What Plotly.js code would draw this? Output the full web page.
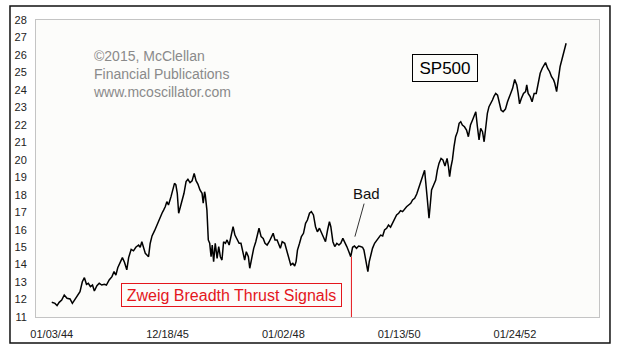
<!DOCTYPE html>
<html>
<head>
<meta charset="utf-8">
<script src="https://cdn.plot.ly/plotly-3.0.1.min.js"></script>
<style>html,body{margin:0;padding:0;background:#fff;}#chart{width:635px;height:355px;}</style>
</head>
<body>
<div id="chart"></div>
<script>
// Trading-day index (0 = 01/03/44) and S&P 500 close
const days = [
  0,14,23,32,43,54,66,79,89,101,112,122,132,141,150,158,167,176,184,195,
  205,216,227,236,248,260,269,277,285,295,305,314,324,332,343,353,363,375,382,389,
  396,404,411,418,425,433,444,454,461,468,476,483,490,497,504,515,522,530,536,542,
  548,555,562,571,580,588,597,606,615,623,631,640,649,654,660,663,670,676,682,688,
  693,699,706,714,721,728,735,742,750,757,766,774,783,791,800,809,817,826,833,840,
  849,855,863,872,881,889,895,904,913,921,930,939,947,956,964,973,987,995,1006,1015,
  1023,1032,1041,1049,1055,1061,1070,1078,1087,1096,1104,1113,1121,1130,1139,1147,1156,1165,1173,1182,
  1191,1199,1205,1214,1222,1231,1240,1248,1257,1265,1274,1283,1291,1299,1307,1316,1325,1333,1342,1348,
  1354,1359,1365,1371,1377,1385,1394,1403,1411,1420,1429,1437,1446,1454,1463,1472,1480,1489,1498,1506,
  1515,1524,1532,1541,1550,1558,1567,1576,1584,1593,1602,1610,1622,1629,1635,1640,1649,1658,1665,1672,
  1681,1689,1698,1707,1713,1718,1724,1730,1737,1744,1752,1759,1766,1773,1782,1791,1799,1808,1817,1823,
  1831,1838,1845,1852,1860,1867,1874,1881,1888,1896,1903,1910,1917,1925,1932,1940,1949,1959,1968,1979,
  1990,1999,2008,2014,2020,2028,2037,2046,2051,2057,2066,2074,2083,2092,2100,2109,2118,2126,2132,2141,
  2150,2158,2167,2172,2180,2187,2195,2204,2213,2221
];
const close = [
  11.84,11.78,11.65,11.84,11.97,12.26,12.07,12.03,11.78,12.03,12.30,12.45,13.02,13.25,12.87,12.93,12.74,12.83,12.49,12.79,
  12.93,12.83,12.87,12.83,13.12,13.31,13.60,13.40,13.82,14.17,14.40,14.13,13.70,14.40,14.87,14.79,14.99,15.12,14.99,15.31,
  14.99,14.64,14.55,14.45,15.21,15.64,15.94,16.27,16.55,16.71,16.94,17.12,17.31,17.60,17.41,17.89,18.23,18.65,18.56,18.08,
  16.94,17.31,17.51,18.08,18.75,18.88,18.69,18.80,19.22,18.80,18.61,18.27,18.08,17.51,18.17,17.98,17.12,15.41,15.22,14.45,
  15.12,14.17,15.22,14.36,15.03,14.45,14.26,15.31,15.22,15.41,15.12,15.60,16.17,15.69,15.41,15.22,15.22,14.74,14.26,14.74,
  14.45,13.79,14.36,14.93,15.31,15.79,16.08,15.60,15.50,15.22,15.12,15.31,15.50,15.79,15.41,15.41,14.93,15.31,15.22,14.83,
  14.45,13.98,14.07,13.92,14.17,14.83,15.22,15.60,15.79,16.36,16.55,16.94,17.03,16.84,16.17,15.88,16.08,15.79,15.60,15.31,
  15.98,16.45,16.17,15.31,15.03,15.22,15.12,15.22,15.50,15.31,15.03,14.74,14.45,14.99,15.06,14.93,15.06,15.03,14.99,14.83,
  14.45,13.98,13.60,14.17,14.55,14.93,15.22,15.41,15.50,15.69,15.64,15.98,16.08,16.27,16.14,16.36,16.55,16.84,16.94,17.09,
  17.03,17.22,17.31,17.41,17.51,17.70,17.79,18.04,18.36,18.65,19.03,19.40,17.70,16.65,17.51,18.27,18.56,18.84,19.41,19.79,
  20.08,19.99,19.64,20.08,19.60,19.03,19.60,19.99,20.75,21.32,21.61,22.09,22.18,21.99,21.89,21.70,21.32,21.99,22.28,22.47,
  22.75,21.89,21.13,21.80,21.61,21.03,21.99,22.66,23.04,23.23,23.42,23.65,23.80,23.70,23.23,22.85,22.75,22.90,23.32,23.70,
  24.09,24.60,24.28,23.80,23.20,23.52,23.80,23.90,24.28,23.80,23.61,23.32,23.80,23.80,24.28,24.95,25.24,25.42,25.56,25.24,
  25.04,24.75,24.57,24.38,23.90,24.57,25.33,25.80,26.19,26.67
];
// Zweig Breadth Thrust signal (trading-day index) and price level where the marker line ends
const signalDays = [1294];
const signalLevel = [14.45];
// Tick positions and labels
const tickDays = [0, 500, 1000, 1500, 2000];
const tickLabels = ['01/03/44', '12/18/45', '01/02/48', '01/13/50', '01/24/52'];
const yTicks = [11,12,13,14,15,16,17,18,19,20,21,22,23,24,25,26,27,28];

const FONT = 'Arial, "Liberation Sans", sans-serif';
const RED = 'rgb(228,22,28)';

const traces = [
  {
    x: days, y: close, type: 'scatter', mode: 'lines',
    line: {color: '#000', width: 1.5}, hoverinfo: 'skip', showlegend: false
  }
];
signalDays.forEach((d, i) => {
  traces.push({
    x: [d, d], y: [11, signalLevel[i]], type: 'scatter', mode: 'lines',
    line: {color: RED, width: 1}, hoverinfo: 'skip', showlegend: false
  });
});

const layout = {
  width: 635, height: 355,
  margin: {l: 36, r: 36, t: 20, b: 38},
  paper_bgcolor: '#ffffff',
  plot_bgcolor: '#fcfcfa',
  font: {family: FONT, size: 11, color: '#222'},
  xaxis: {
    range: [-68, 2363], showgrid: false, zeroline: false,
    showline: true, mirror: true, linecolor: '#c4c4c4', linewidth: 1,
    tickmode: 'array', tickvals: tickDays, ticktext: tickLabels,
    ticks: 'outside', ticklen: 7, tickcolor: 'rgba(0,0,0,0)',
    tickfont: {family: FONT, size: 11, color: '#222'}
  },
  yaxis: {
    range: [11, 28], showgrid: false, zeroline: false,
    showline: true, mirror: true, linecolor: '#c4c4c4', linewidth: 1,
    tickmode: 'array', tickvals: yTicks,
    ticks: 'outside', ticklen: 6, tickcolor: 'rgba(0,0,0,0)',
    tickfont: {family: FONT, size: 11, color: '#222'}
  },
  shapes: [
    {type: 'rect', xref: 'paper', yref: 'paper',
     x0: -0.0462, x1: 1.0195, y0: -0.0875, y1: 1.047,
     line: {color: '#111', width: 1.5}, fillcolor: 'rgba(0,0,0,0)', layer: 'below'}
  ],
  annotations: [
    {xref: 'paper', yref: 'paper', x: 0.0972, y: 0.818, xanchor: 'left', yanchor: 'middle',
     align: 'left', showarrow: false,
     text: '©2015, McClellan<br>Financial Publications<br>www.mcoscillator.com',
     font: {family: FONT, size: 14, color: '#8a8a8a'}},
    {xref: 'paper', yref: 'paper', x: 0.7265, y: 0.8384, xanchor: 'center', yanchor: 'middle',
     showarrow: false, text: 'SP500',
     font: {family: FONT, size: 17, color: '#000'},
     bordercolor: '#000', borderwidth: 1, borderpad: 1, bgcolor: '#fcfcfa',
     width: 62, height: 24},
    {xref: 'paper', yref: 'paper', x: 0.3464, y: 0.0741, xanchor: 'center', yanchor: 'middle',
     showarrow: false, text: 'Zweig Breadth Thrust Signals',
     font: {family: FONT, size: 16, color: RED},
     bordercolor: RED, borderwidth: 1, borderpad: 1, bgcolor: '#fcfcfa',
     width: 217, height: 20},
    {x: 1309, y: 15.6, xref: 'x', yref: 'y', text: 'Bad',
     showarrow: true, arrowhead: 0, arrowwidth: 1, arrowcolor: '#333',
     ax: 12, ay: -43, standoff: 0,
     font: {family: FONT, size: 15, color: '#111'}}
  ]
};

Plotly.newPlot('chart', traces, layout, {displayModeBar: false, staticPlot: true});
</script>
</body>
</html>
